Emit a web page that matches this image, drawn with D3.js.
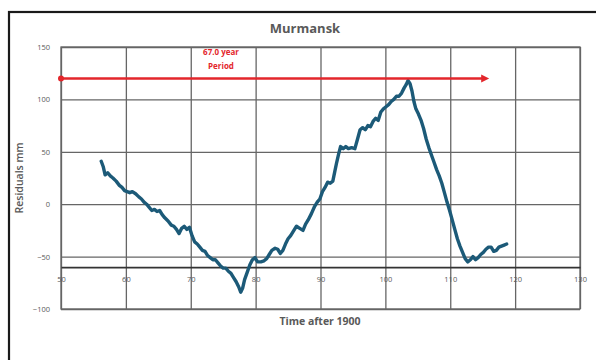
<!DOCTYPE html>
<html>
<head>
<meta charset="utf-8">
<script src="https://cdn.jsdelivr.net/npm/d3@7"></script>
<style>
  html, body { margin: 0; padding: 0; background: #fff; }
  svg { display: block; }
</style>
</head>
<body>
<svg id="chart" width="596" height="360"></svg>
<script>
// Murmansk tide-gauge residuals (mm) against years after 1900
const years = [
  56.2, 56.5, 56.8, 57.2, 57.6, 58.0, 58.5, 59.0, 59.4, 59.8,
  60.2, 60.6, 61.0, 61.5, 62.0, 62.4, 62.8, 63.2, 63.6, 64.0,
  64.4, 64.8, 65.2, 65.6, 66.0, 66.5, 67.0, 67.4, 67.8, 68.2,
  68.6, 69.0, 69.4, 69.8, 70.2, 70.6, 71.0, 71.4, 71.8, 72.2,
  72.6, 73.0, 73.4, 73.8, 74.2, 74.6, 75.0, 75.4, 75.8, 76.2,
  76.6, 77.0, 77.4, 77.7, 78.0, 78.3, 78.7, 79.1, 79.5, 79.9,
  80.3, 80.8, 81.3, 81.7, 82.1, 82.5, 83.0, 83.4, 83.8, 84.2,
  84.6, 85.0, 85.4, 85.8, 86.3, 86.8, 87.3, 87.7, 88.1, 88.6,
  89.1, 89.5, 89.9, 90.3, 90.7, 91.1, 91.5, 91.9, 92.2, 92.5,
  92.8, 93.1, 93.5, 93.9, 94.3, 94.8, 95.3, 95.7, 96.1, 96.5,
  96.9, 97.3, 97.7, 98.1, 98.5, 98.9, 99.3, 99.7, 100.1, 100.5,
  100.9, 101.3, 101.7, 102.1, 102.5, 102.9, 103.2, 103.5, 103.8, 104.1,
  104.4, 104.7, 105.1, 105.5, 105.9, 106.3, 106.7, 107.1, 107.5, 107.9,
  108.3, 108.7, 109.1, 109.5, 109.9, 110.3, 110.7, 111.1, 111.5, 111.9,
  112.3, 112.7, 113.1, 113.5, 113.9, 114.3, 114.7, 115.1, 115.5, 115.9,
  116.3, 116.7, 117.1, 117.5, 117.9, 118.3, 118.7
];
const residuals = [
  41, 36, 28, 30, 27, 25, 22, 18, 16, 13,
  12, 11, 12, 10, 7, 5, 2, 0, -3, -6,
  -5, -7, -6, -10, -13, -16, -20, -21, -24, -28,
  -23, -21, -24, -22, -30, -36, -38, -41, -44, -45,
  -49, -51, -53, -53, -56, -59, -61, -61, -64, -66,
  -70, -74, -79, -84, -80, -72, -65, -58, -53, -51,
  -55, -55, -54, -52, -48, -44, -42, -43, -47, -44,
  -38, -33, -30, -26, -21, -23, -25, -19, -15, -9,
  -2, 2, 5, 12, 16, 21, 20, 22, 31, 40,
  48, 55, 53, 55, 53, 54, 53, 62, 71, 73,
  71, 75, 74, 79, 82, 80, 88, 91, 93, 95,
  98, 100, 103, 103, 106, 111, 114, 118, 115, 108,
  98, 91, 86, 80, 72, 62, 54, 47, 40, 33,
  27, 20, 11, 2, -6, -15, -24, -33, -40, -46,
  -52, -55, -53, -50, -53, -51, -48, -46, -43, -41,
  -41, -45, -44, -41, -40, -39, -38
];
const xTicks = [50, 60, 70, 80, 90, 100, 110, 120, 130];
const yTicks = [-100, -50, 0, 50, 100, 150];
const xAxisCross = -60;           // horizontal axis crosses here
const periodStart = 50;           // period arrow, years after 1900
const periodEnd = 116;
const periodLevel = 120;          // arrow height, mm
const periodLabel = ["67.0 year", "Period"];
const titleText = "Murmansk";
const xTitle = "Time after 1900";
const yTitle = "Residuals mm";

const svg = d3.select("#chart");
const font = "'Open Sans', 'Liberation Sans', sans-serif";
const grey = "#595959";
const gridColor = "#666666";
const lineColor = "#1c5a78";
const red = "#e3262b";

// outer chart frame
svg.append("rect")
  .attr("x", 9).attr("y", 12)
  .attr("width", 620).attr("height", 400)
  .attr("fill", "#fff")
  .attr("stroke", "#1a1a1a").attr("stroke-width", 2.2);

const x = d3.scaleLinear().domain([50, 130]).range([61, 580]);
const y = d3.scaleLinear().domain([-100, 150]).range([309, 47]);

const plot = svg.append("g");

// gridlines
plot.append("g")
  .attr("transform", `translate(0,${y(-100)})`)
  .call(d3.axisBottom(x).tickValues(xTicks).tickSize(-(y(-100) - y(150))).tickFormat(""))
  .call(g => g.select(".domain").remove())
  .call(g => g.selectAll("line").attr("stroke", gridColor).attr("stroke-width", 1.3));
plot.append("g")
  .attr("transform", `translate(${x(50)},0)`)
  .call(d3.axisLeft(y).tickValues(yTicks).tickSize(-(x(130) - x(50))).tickFormat(""))
  .call(g => g.select(".domain").remove())
  .call(g => g.selectAll("line").attr("stroke", gridColor).attr("stroke-width", 1.3));

// plot border
plot.append("rect")
  .attr("x", x(50)).attr("y", y(150))
  .attr("width", x(130) - x(50)).attr("height", y(-100) - y(150))
  .attr("fill", "none").attr("stroke", gridColor).attr("stroke-width", 1.3);

// y tick labels
plot.append("g")
  .attr("transform", `translate(${x(50)},0)`)
  .call(d3.axisLeft(y).tickValues(yTicks).tickSize(0).tickPadding(11))
  .call(g => g.select(".domain").remove())
  .call(g => g.selectAll("text")
    .attr("font-family", font).attr("font-size", 7.5).attr("fill", grey));

// horizontal axis at -60 with its labels
plot.append("g")
  .attr("transform", `translate(0,${y(xAxisCross)})`)
  .call(d3.axisBottom(x).tickValues(xTicks).tickSize(0).tickPadding(10))
  .call(g => g.select(".domain").attr("stroke", "#333333").attr("stroke-width", 1.7))
  .call(g => g.selectAll("text")
    .attr("font-family", font).attr("font-size", 7.5).attr("fill", grey));

// residual series
const line = d3.line()
  .x((d, i) => x(years[i]))
  .y((d, i) => y(residuals[i]))
  .curve(d3.curveLinear);
plot.append("path")
  .datum(residuals)
  .attr("d", line)
  .attr("fill", "none")
  .attr("stroke", lineColor)
  .attr("stroke-width", 3.4)
  .attr("stroke-linejoin", "round")
  .attr("stroke-linecap", "round");

// period arrow
const ay = y(periodLevel);
plot.append("line")
  .attr("x1", x(periodStart)).attr("y1", ay)
  .attr("x2", x(periodEnd) - 6).attr("y2", ay)
  .attr("stroke", red).attr("stroke-width", 2.5);
plot.append("circle")
  .attr("cx", x(periodStart)).attr("cy", ay).attr("r", 3)
  .attr("fill", red);
plot.append("path")
  .attr("d", d3.line()([[x(periodEnd) - 8, ay - 4], [x(periodEnd), ay], [x(periodEnd) - 8, ay + 4]]) + "Z")
  .attr("fill", red);
plot.append("text")
  .attr("x", 221).attr("font-family", font).attr("font-size", 8)
  .attr("font-weight", 700).attr("fill", red).attr("text-anchor", "middle")
  .selectAll("tspan").data(periodLabel).join("tspan")
  .attr("x", 221).attr("y", (d, i) => 55 + i * 14).text(d => d);

// titles
svg.append("text")
  .attr("x", 305).attr("y", 33)
  .attr("text-anchor", "middle")
  .attr("font-family", font).attr("font-size", 13).attr("font-weight", 700)
  .attr("fill", grey).text(titleText);
svg.append("text")
  .attr("x", 320).attr("y", 325)
  .attr("text-anchor", "middle")
  .attr("font-family", font).attr("font-size", 10.5).attr("font-weight", 700)
  .attr("fill", grey).text(xTitle);
svg.append("text")
  .attr("transform", "translate(23,178) rotate(-90)")
  .attr("text-anchor", "middle")
  .attr("font-family", font).attr("font-size", 10.5).attr("font-weight", 600)
  .attr("fill", grey).text(yTitle);
</script>
</body>
</html>
